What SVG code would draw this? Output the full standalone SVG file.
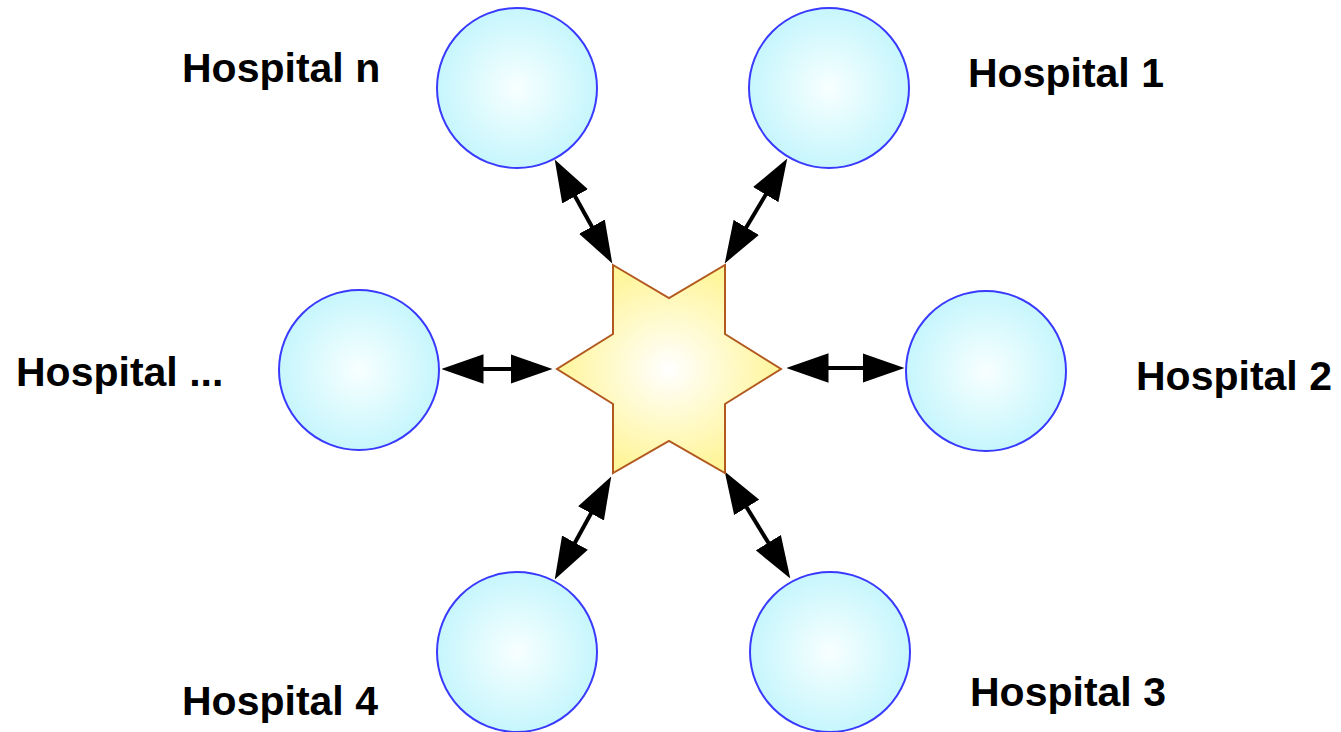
<svg xmlns="http://www.w3.org/2000/svg" width="1341" height="732" viewBox="0 0 1341 732">
<style>
.hosp{fill:url(#cg);stroke:#3a3aff;stroke-width:2}
.lbl{font-family:"Liberation Sans",Arial,sans-serif;font-weight:bold;font-size:41px;fill:#000}
.conn{stroke:#000;stroke-width:4;fill:none;marker-start:url(#ah);marker-end:url(#ah)}
</style>
<defs>
<radialGradient id="cg" cx="0.5" cy="0.5" r="0.5">
<stop offset="0" stop-color="#f8ffff"/>
<stop offset="1" stop-color="#c6f6fc"/>
</radialGradient>
<radialGradient id="sg" cx="0.5" cy="0.5" r="0.5">
<stop offset="0" stop-color="#ffffff"/>
<stop offset="1" stop-color="#fff59a"/>
</radialGradient>
<marker id="ah" markerUnits="userSpaceOnUse" markerWidth="42" markerHeight="30" viewBox="0 0 40 28" refX="30" refY="14" orient="auto-start-reverse">
<path d="M0,0 L40,14 L0,28 Z" fill="#000"/>
</marker>
</defs>
<g id="connectors">
<line class="conn" x1="452" y1="369" x2="542" y2="369"/>
<line class="conn" x1="797" y1="368" x2="894" y2="368"/>
<line class="conn" x1="559.8" y1="168.8" x2="607.2" y2="254.2"/>
<line class="conn" x1="781.9" y1="167.6" x2="730.1" y2="254.4"/>
<line class="conn" x1="606.2" y1="485.8" x2="559.8" y2="570.2"/>
<line class="conn" x1="730.2" y1="480.5" x2="784.8" y2="569.5"/>
</g>
<g id="hub">
<polygon points="613,265 669,298 725,265 725,334 781,369 725,404 725,473 669,441 613,473 613,404 557,369 613,334" fill="url(#sg)" stroke="#b2591f" stroke-width="2"/>
</g>
<g id="hospital-n">
<circle class="hosp" cx="517" cy="88" r="80"/>
<text class="lbl" x="182" y="82">Hospital n</text>
</g>
<g id="hospital-1">
<circle class="hosp" cx="829" cy="88" r="80"/>
<text class="lbl" x="968" y="87">Hospital 1</text>
</g>
<g id="hospital-2">
<circle class="hosp" cx="986" cy="371" r="80"/>
<text class="lbl" x="1136" y="390">Hospital 2</text>
</g>
<g id="hospital-3">
<circle class="hosp" cx="830" cy="652" r="80"/>
<text class="lbl" x="970" y="706">Hospital 3</text>
</g>
<g id="hospital-4">
<circle class="hosp" cx="517" cy="652" r="80"/>
<text class="lbl" x="182" y="715">Hospital 4</text>
</g>
<g id="hospital-etc">
<circle class="hosp" cx="359" cy="370" r="80"/>
<text class="lbl" x="16" y="386">Hospital ...</text>
</g>
</svg>
